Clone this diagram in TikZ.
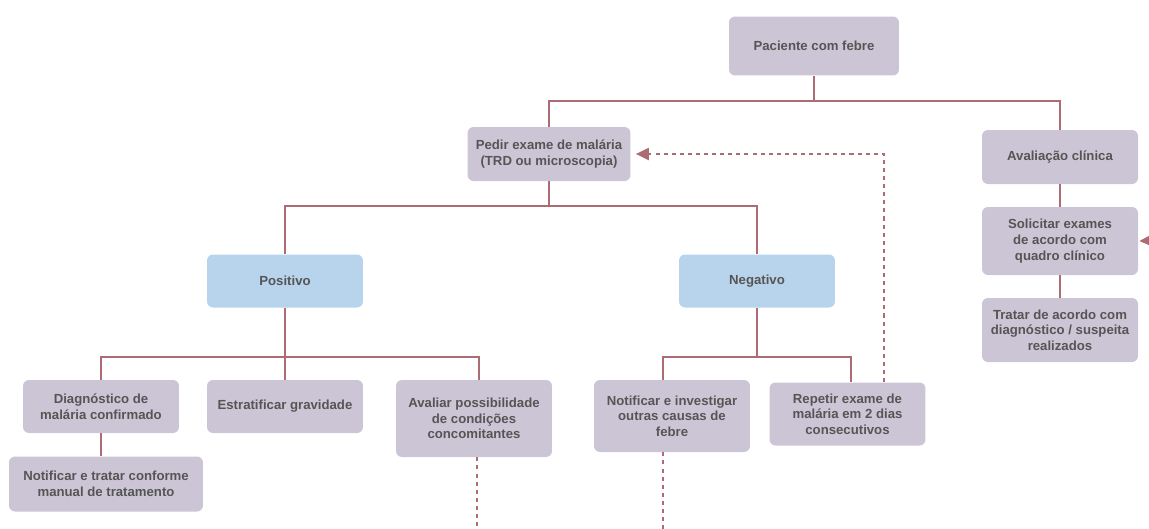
\documentclass[tikz,border=0pt]{standalone}
\usepackage{fontspec}
\setmainfont{Liberation Sans}
\usepackage{xcolor}
\usepackage{tikz}
\usetikzlibrary{arrows.meta}
\definecolor{boxgrey}{HTML}{CCC5D5}
\definecolor{boxblue}{HTML}{B8D4ED}
\definecolor{txtgrey}{HTML}{555555}
\definecolor{linkred}{HTML}{AD6C74}

\begin{document}
\begin{tikzpicture}[x=0.02cm,y=-0.02cm,
	box/.style={rounded corners=0.12cm,fill=boxgrey,text=txtgrey,font=\fontsize{7.5}{8.9}\selectfont\bfseries,align=center,inner sep=0pt,minimum width=3.12cm,minimum height=1.06cm},
	bluebox/.style={box,fill=boxblue},
	link/.style={linkred,line width=1.15pt},
	dlink/.style={linkred,line width=1.15pt,dash pattern=on 2.3pt off 2.3pt},
	tip/.style={-{Triangle[length=0.26cm,width=0.24cm]}}]
	\clip (0,0) rectangle (1149,528);
	\node[box,minimum width=3.4cm,minimum height=1.18cm] (pac) at (814,46) {Paciente com febre};
	\node[box,minimum width=3.26cm,minimum height=1.08cm] (exame) at (549,154) {Pedir exame de malária\\(TRD ou microscopia)};
	\node[box,minimum height=1.08cm] (clin) at (1060,157) {Avaliação clínica};
	\node[box,minimum height=1.36cm] (solic) at (1060,241) {Solicitar exames\\de acordo com\\quadro clínico};
	\node[box,minimum height=1.28cm] (tratar) at (1060,330) {Tratar de acordo com\\diagnóstico / suspeita\\realizados};
	\node[bluebox] (pos) at (285,281) {Positivo};
	\node[bluebox] (neg) at (757,281) {Negativo};
	\node[box] (diag) at (101,406.5) {Diagnóstico de\\malária confirmado};
	\node[box] (estrat) at (285,406.5) {Estratificar gravidade};
	\node[box,minimum height=1.54cm] (concom) at (474,418.5) {Avaliar possibilidade\\de condições\\concomitantes};
	\node[box,minimum height=1.44cm] (outras) at (672,416) {Notificar e investigar\\outras causas de\\febre};
	\node[box,minimum height=1.26cm] (repetir) at (847.5,414) {Repetir exame de\\malária em 2 dias\\consecutivos};
	\node[box,minimum width=3.88cm,minimum height=1.1cm] (notif) at (106,484) {Notificar e tratar conforme\\manual de tratamento};
	\coordinate (endA) at (477,540);
	\coordinate (endB) at (663,540);
	\coordinate (fromright) at (1165,240);
	\draw[link] (pac.south) -- ++(0,25) -| (exame.north);
	\draw[link] (pac.south) -- ++(0,25) -| (clin.north);
	\draw[link] (clin) -- (solic);
	\draw[link] (solic) -- (tratar);
	\draw[link] (exame.south) -- ++(0,25) -| (pos.north);
	\draw[link] (exame.south) -- ++(0,25) -| (neg.north);
	\draw[link] (pos.south) -- ++(0,49) -| (diag.north);
	\draw[link] (pos.south) -- ++(0,49) -| (estrat.north);
	\draw[link] (pos.south) -- ++(0,49) -| ([xshift=0.1cm]concom.north);
	\draw[link] (diag.south) -- (diag.south |- notif.north);
	\draw[link] (neg.south) -- ++(0,49) -| ([xshift=-0.18cm]outras.north);
	\draw[link] (neg.south) -- ++(0,49) -| ([xshift=0.07cm]repetir.north);
	\draw[dlink,tip,shorten >=0.1cm] ([xshift=0.73cm]repetir.north) |- (exame.east);
	\draw[dlink] (concom.south -| endA) -- (endA);
	\draw[dlink] (outras.south -| endB) -- (endB);
	\draw[link,tip,shorten >=0.02cm] (fromright) -- (solic.east);
\end{tikzpicture}
\end{document}
